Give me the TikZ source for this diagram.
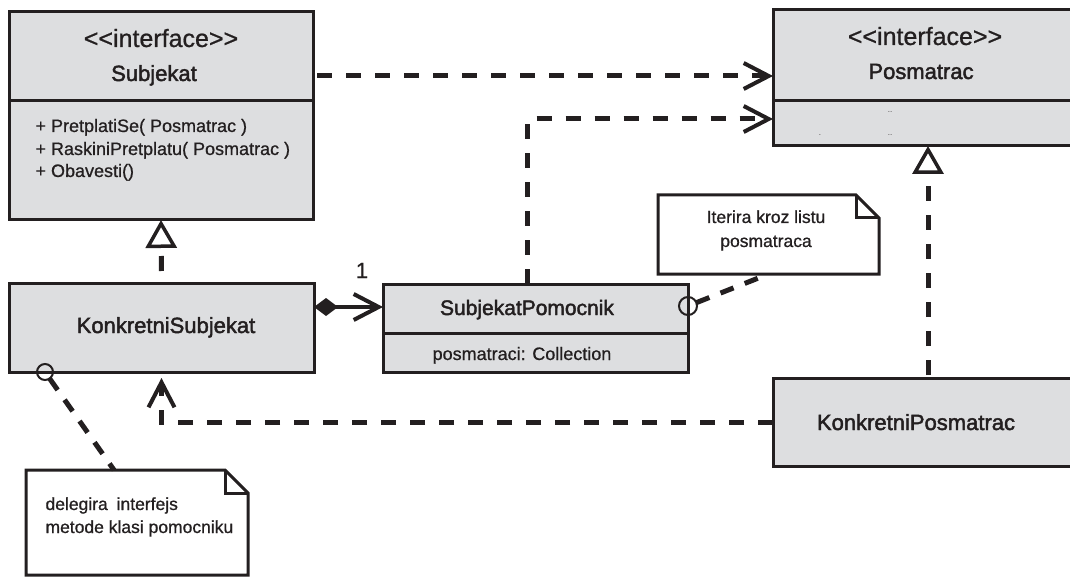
\documentclass[tikz,border=0pt]{standalone}
\usepackage{fontspec}
\setmainfont{Liberation Sans}[Ligatures=NoCommon]
\newfontfamily\clsfont[FakeBold=2]{Liberation Sans}
\newfontfamily\txtfont[FakeBold=0.8]{Liberation Sans}
\usetikzlibrary{arrows.meta,calc}
\definecolor{boxgray}{RGB}{221,222,224}
\definecolor{ink}{RGB}{35,31,32}
\tikzset{
  classbox/.style={draw=ink, fill=boxgray, line width=3pt, anchor=north west, inner sep=0pt, outer sep=0pt},
  noteframe/.style={anchor=north west, inner sep=0pt, outer sep=0pt},
  noteline/.style={draw=ink, line width=3pt, line join=miter},
  divider/.style={draw=ink, line width=3pt},
  dashline/.style={draw=ink, line width=5pt, dash pattern=on 15pt off 14pt},
  dep/.style={dashline, -{Straight Barb[length=25pt,width=26pt,line width=4pt]}},
  real/.style={dashline, -{Triangle[length=28pt,width=31pt,line width=3.5pt,fill=white]}},
  comp/.style={draw=ink, line width=4pt, {Diamond[length=24pt,width=18pt]}-{Straight Barb[length=25pt,width=26pt,line width=4pt]}},
  ball/.style={draw=ink, line width=2pt},
  stereo/.style={anchor=base, text=ink, font=\txtfont\fontsize{25}{28}\selectfont},
  clsname/.style={anchor=base, text=ink, font=\clsfont\fontsize{22}{26}\selectfont},
  member/.style={anchor=base west, text=ink, font=\txtfont\fontsize{18}{22}\selectfont},
  notetext/.style={text=ink, font=\txtfont\fontsize{17.5}{22}\selectfont},
  tiny/.style={anchor=base, text=ink!85, font=\fontsize{8}{8}\selectfont}
}
\begin{document}
\begin{tikzpicture}[x=1pt, y=-1pt]
\useasboundingbox (0,0) rectangle (1070,577);
\clip (0,0) rectangle (1070,577);

% ---------- class boxes ----------
\node[classbox, minimum width=304pt, minimum height=208pt] (subj) at (9,12) {};
\draw[divider] ($(subj.north west)+(0,89)$) -- ($(subj.north east)+(0,89)$);

\node[classbox, minimum width=310pt, minimum height=136pt] (pos) at (773,10) {};
\draw[divider] ($(pos.north west)+(0,91)$) -- ($(pos.north east)+(0,91)$);

\node[classbox, minimum width=305pt, minimum height=89pt] (ks) at (9,283) {};
\node[classbox, minimum width=305pt, minimum height=88pt] (sp) at (383,284) {};
\draw[divider] ($(sp.north west)+(0,49)$) -- ($(sp.north east)+(0,49)$);

\node[classbox, minimum width=310pt, minimum height=88pt] (kp) at (773,378) {};

% ---------- notes ----------
\node[noteframe, minimum width=221pt, minimum height=79pt] (note1) at (658,195) {};
\draw[noteline, fill=white] (note1.north west) -- ($(note1.north east)+(-23,0)$) -- ($(note1.north east)+(0,23)$) -- (note1.south east) -- (note1.south west) -- cycle;
\draw[noteline] ($(note1.north east)+(-23,0)$) -- ($(note1.north east)+(-23,23)$) -- ($(note1.north east)+(0,23)$);

\node[noteframe, minimum width=222pt, minimum height=105pt] (note2) at (26,470) {};
\draw[noteline, fill=white] (note2.north west) -- ($(note2.north east)+(-23,0)$) -- ($(note2.north east)+(0,23)$) -- (note2.south east) -- (note2.south west) -- cycle;
\draw[noteline] ($(note2.north east)+(-23,0)$) -- ($(note2.north east)+(-23,23)$) -- ($(note2.north east)+(0,23)$);

% ---------- texts ----------
\node[stereo] (subjst) at (161,47) {{<}{<}interface{>}{>}};
\node[clsname] (subjnm) at (154,81) {Subjekat};
\node[member] (m1) at (32,132) {+ PretplatiSe( Posmatrac )};
\node[member] (m2) at (32,155) {+ RaskiniPretplatu( Posmatrac )};
\node[member] (m3) at (32,177) {+ Obavesti()};

\node[stereo] (posst) at (925,45) {{<}{<}interface{>}{>}};
\node[clsname] (posnm) at (921,79) {Posmatrac};
\node[tiny] (d1) at (890,113) {..};
\node[tiny] (d2) at (820,136) {.};
\node[tiny] (d3) at (890,136) {..};

\node[clsname] (ksnm) at (166,333) {KonkretniSubjekat};
\node[clsname, font=\clsfont\fontsize{21}{25}\selectfont] (spnm) at (527,315) {SubjekatPomocnik};
\node[member, anchor=base] (spat) at (522,360) {posmatraci: Collection};
\node[clsname] (kpnm) at (916,430) {KonkretniPosmatrac};

\node[anchor=base, text=ink, font=\txtfont\fontsize{22}{26}\selectfont] (mult) at (362,278) {1};

\node[notetext, anchor=base] (n1a) at (766,223) {Iterira kroz listu};
\node[notetext, anchor=base] (n1b) at (766,247) {posmatraca};
\node[notetext, anchor=base west] (n2a) at (42,510) {delegira\hspace{4pt} interfejs};
\node[notetext, anchor=base west] (n2b) at (42,533) {metode klasi pomocniku};

% ---------- connectors ----------
\draw[dep] ($(subj.north east)+(4,64)$) -- ($(pos.north west)+(0,66)$);
\draw[dep] ($(sp.north)+(-8,0)$) |- ($(pos.north west)+(0,109)$);
\draw[real, dash phase=17pt] (ks.north) -- (subj.south);
\draw[real, dash phase=26pt] (kp.north) -- (pos.south);
\draw[dep, shorten >=6pt] (kp.west) -| (ks.south);
\draw[comp] ($(ks.north east)+(0,24)$) -- ($(sp.north west)+(0,23)$);

\coordinate (c1) at ($(sp.north east)+(0,22)$);
\coordinate (c2) at ($(ks.south west)+(36,0)$);
\draw[ball] (c1) circle (9);
\draw[ball] (c2) circle (8);
\draw[dashline, dash pattern=on 14pt off 12pt] ($(c1)!9pt!(note1.south)$) -- (note1.south);
\draw[dashline, dash pattern=on 14pt off 12pt] ($(c2)!8pt!($(note2.north)+(-23,0)$)$) -- ($(note2.north)+(-23,0)$);
\end{tikzpicture}
\end{document}
